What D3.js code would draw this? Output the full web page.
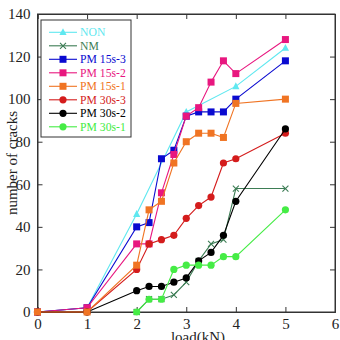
<!DOCTYPE html>
<html>
<head>
<meta charset="utf-8">
<script src="https://cdn.jsdelivr.net/npm/d3@7"></script>
<style>
body { margin: 0; background: #fff; }
text { font-family: "Liberation Serif", "Times New Roman", serif; }
</style>
</head>
<body>
<div id="chart-area"></div>
<script>
var loads = [0, 1, 2, 2.25, 2.5, 2.75, 3, 3.25, 3.5, 3.75, 4, 5];
var xTicks = [0, 1, 2, 3, 4, 5, 6];
var yTicks = [0, 20, 40, 60, 80, 100, 120, 140];

var nonLoads = [0, 1, 2, 3, 4, 5];
var nonVals  = [0, 2, 46, 94, 106, 124];
var nmLoads  = [2, 2.25, 2.5, 2.75, 3, 3.25, 3.5, 3.75, 4, 5];
var nmVals   = [0, 6, 6, 8, 14, 24, 32, 34, 58, 58];
var pm15s3   = [0, 2, 40, 42, 72, 76, 92, 94, 94, 94, 100, 118];
var pm15s2   = [0, 2, 32, 32, 56, 74, 92, 96, 108, 118, 112, 128];
var pm15s1   = [0, 0, 22, 48, 52, 70, 80, 84, 84, 82, 98, 100];
var pm30s3   = [0, 0, 20, 32, 34, 36, 44, 50, 54, 70, 72, 84];
var pm30s2   = [0, 0, 10, 12, 12, 14, 16, 24, 28, 36, 52, 86];
var pm30sLoads1 = [2, 2.25, 2.5, 2.75, 3, 3.25, 3.5, 3.75, 4, 5];
var pm30s1   = [0, 6, 6, 20, 22, 22, 22, 26, 26, 48];

function pairs(xs, ys) { return xs.map(function(x, i) { return [x, ys[i]]; }); }

var series = [
    {name: "NON",       color: "#5fe8f0", shape: "triangle", pts: pairs(nonLoads, nonVals)},
    {name: "NM",        color: "#3d7d55", shape: "cross",    pts: pairs(nmLoads, nmVals)},
    {name: "PM 15s-3",  color: "#0a0ad0", shape: "square",   pts: pairs(loads, pm15s3)},
    {name: "PM 15s-2",  color: "#e8177f", shape: "square",   pts: pairs(loads, pm15s2)},
    {name: "PM 15s-1",  color: "#f07423", shape: "square",   pts: pairs(loads, pm15s1)},
    {name: "PM 30s-3",  color: "#d41c1c", shape: "circle",   pts: pairs(loads, pm30s3)},
    {name: "PM 30s-2",  color: "#000000", shape: "circle",   pts: pairs(loads, pm30s2)},
    {name: "PM 30s-1",  color: "#45ec45", shape: "circle",   pts: pairs(pm30sLoads1, pm30s1)}
];
// draw order: orange squares end up on top at the origin
var drawOrder = [0, 1, 2, 3, 5, 6, 7, 4];

var margin = {top: 14, right: 5, bottom: 28, left: 37.5},
    width = 340 - margin.left - margin.right,
    height = 340 - margin.top - margin.bottom;

var svg = d3.select("#chart-area")
    .append("svg")
    .attr("width", 340)
    .attr("height", 340)
    .append("g")
    .attr("transform", "translate(" + margin.left + "," + margin.top + ")");

var x = d3.scaleLinear().domain([0, 6]).range([0, width]);
var y = d3.scaleLinear().domain([0, 140]).range([height, 0]);

svg.append("rect")
    .attr("width", width).attr("height", height)
    .attr("fill", "none").attr("stroke", "#333").attr("stroke-width", 1);

svg.append("g")
    .attr("transform", "translate(0," + height + ")")
    .call(d3.axisBottom(x).tickValues(xTicks).tickFormat(d3.format("d")).tickSize(-5).tickPadding(6));
svg.append("g")
    .call(d3.axisLeft(y).tickValues(yTicks).tickFormat(d3.format("d")).tickSize(-5).tickPadding(7));
svg.append("g")
    .call(d3.axisTop(x).tickValues(xTicks).tickSize(-5).tickFormat(""));
svg.append("g")
    .attr("transform", "translate(" + width + ",0)")
    .call(d3.axisRight(y).tickValues(yTicks).tickSize(-5).tickFormat(""));

svg.selectAll(".domain").attr("stroke", "#333");
svg.selectAll(".tick line").attr("stroke", "#333");
svg.selectAll(".tick text")
    .attr("fill", "#222")
    .style("font-family", "'Liberation Serif', serif")
    .style("font-size", "15px");

var line = d3.line().x(d => x(d[0])).y(d => y(d[1]));

function drawMarker(g, shape, color, px, py) {
    if (shape === "square") {
        g.append("rect").attr("x", px - 3.5).attr("y", py - 3.5)
            .attr("width", 7).attr("height", 7).attr("fill", color);
    } else if (shape === "circle") {
        g.append("circle").attr("cx", px).attr("cy", py).attr("r", 3.6).attr("fill", color);
    } else if (shape === "triangle") {
        g.append("path")
            .attr("d", "M" + px + "," + (py - 4) + "L" + (px + 3.6) + "," + (py + 2.8) + "L" + (px - 3.6) + "," + (py + 2.8) + "Z")
            .attr("fill", color);
    } else if (shape === "cross") {
        g.append("path")
            .attr("d", "M" + (px - 3) + "," + (py - 3) + "L" + (px + 3) + "," + (py + 3) + "M" + (px - 3) + "," + (py + 3) + "L" + (px + 3) + "," + (py - 3))
            .attr("stroke", color).attr("stroke-width", 1.1).attr("fill", "none");
    }
}

drawOrder.forEach(function(i) {
    var s = series[i];
    var g = svg.append("g");
    g.append("path")
        .datum(s.pts)
        .attr("d", line)
        .attr("fill", "none")
        .attr("stroke", s.color)
        .attr("stroke-width", 1.1);
    s.pts.forEach(function(p) {
        drawMarker(g, s.shape, s.color, x(p[0]), y(p[1]));
    });
});

// legend
var legend = svg.append("g").attr("transform", "translate(" + (41 - margin.left) + "," + (20 - margin.top) + ")");
legend.append("rect")
    .attr("width", 90).attr("height", 117)
    .attr("fill", "#fff").attr("stroke", "#333").attr("stroke-width", 1);

series.forEach(function(s, i) {
    var ly = 12.3 + i * 13.5;
    legend.append("line")
        .attr("x1", 8).attr("x2", 36).attr("y1", ly).attr("y2", ly)
        .attr("stroke", s.color).attr("stroke-width", 1.1);
    drawMarker(legend, s.shape, s.color, 22, ly);
    legend.append("text")
        .attr("x", 39).attr("y", ly + 4)
        .attr("fill", s.color)
        .style("font-size", "11.7px")
        .text(s.name);
});

svg.append("text")
    .attr("x", 198 - margin.left)
    .attr("y", height + 30)
    .attr("text-anchor", "middle")
    .attr("fill", "#222")
    .style("font-size", "15px")
    .text("load(kN)");

svg.append("text")
    .attr("transform", "rotate(-90)")
    .attr("x", -(163 - margin.top))
    .attr("y", 17 - margin.left)
    .attr("text-anchor", "middle")
    .attr("fill", "#222")
    .style("font-size", "15px")
    .text("number of cracks");
</script>
</body>
</html>
